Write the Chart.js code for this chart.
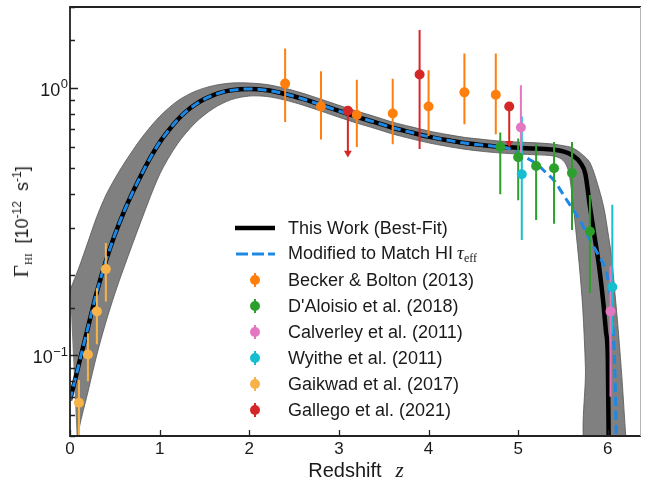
<!DOCTYPE html>
<html lang="en">
<head>
<meta charset="utf-8">
<title>HI photoionization rate vs redshift</title>
<script src="https://cdn.jsdelivr.net/npm/chart.js@4.4.1/dist/chart.umd.min.js"></script>
<style>
  body { margin: 0; background: #fff; }
  #wrap { position: relative; width: 646px; height: 483px; font-family: "Liberation Sans", Arial, sans-serif; color: #1a1a1a; }
  #chart { position: absolute; left: 0; top: 0; }
  .serif { font-family: "Liberation Serif", "DejaVu Serif", serif; }
  .ytitle { position: absolute; left: 22px; top: 222px; transform: translate(-50%, -50%) rotate(-90deg); white-space: nowrap; font-size: 18px; line-height: 1; }
  .ytitle .gamma { font-size: 22px; }
  .ytitle sub { font-size: 11px; vertical-align: -4px; }
  .ytitle sup { font-size: 12px; vertical-align: 7px; }
  .xtitle { position: absolute; left: 356px; top: 470px; transform: translate(-50%, -50%); white-space: nowrap; font-size: 20px; line-height: 1; }
  .xtitle .z { font-style: italic; font-size: 21px; margin-left: 14px; }
  .legend { position: absolute; left: 233px; top: 215px; font-size: 18px; }
  .legend .row { display: flex; align-items: center; height: 26px; white-space: nowrap; }
  .legend svg { width: 52px; height: 26px; margin-right: 3px; flex: none; }
  .legend .tau { font-style: italic; font-size: 19px; margin-left: 4px; }
  .legend sub { font-size: 12px; vertical-align: -3px; }
</style>
</head>
<body>
<div id="wrap">
  <canvas id="chart" width="646" height="483"></canvas>
  <div class="ytitle"><span class="serif gamma">Γ</span><sub class="serif">HI</sub>&nbsp;&nbsp;[10<sup>-12</sup>&nbsp;&nbsp;s<sup>-1</sup>]</div>
  <div class="xtitle">Redshift<span class="serif z">z</span></div>
  <div class="legend" id="legend"></div>
</div>
<script>
// Axis ranges and tick labels
const xMin = 0, xMax = 6.37;
const yMin = 0.05, yMax = 2;
const yTickValues = [0.1, 1];
const yTickExps = ['\u22121', '0'];

// Best-fit curve (black)
const fitZ = [0, 0.1, 0.2, 0.3, 0.4, 0.5, 0.6, 0.7, 0.8, 0.9, 1.0, 1.1, 1.2, 1.3, 1.4, 1.5, 1.6, 1.7, 1.8, 1.9, 2.0,
    2.2, 2.4, 2.6, 2.8, 3.0, 3.2, 3.4, 3.6, 3.8, 4.0, 4.2, 4.4, 4.6, 4.8, 5.0, 5.2, 5.4,
    5.5, 5.6, 5.7, 5.75, 5.8, 5.85, 5.9, 5.95, 5.98, 6.0, 6.01];
const fitVal = [0.068, 0.093, 0.127, 0.173, 0.225, 0.282, 0.343, 0.407, 0.476, 0.55, 0.624, 0.692, 0.759, 0.817, 0.865, 0.906, 0.938, 0.962, 0.977, 0.986, 0.989,
    0.977, 0.947, 0.907, 0.862, 0.818, 0.778, 0.743, 0.708, 0.681, 0.656, 0.637, 0.621, 0.61, 0.601, 0.596, 0.592, 0.586,
    0.578, 0.56, 0.52, 0.475, 0.36, 0.28, 0.218, 0.157, 0.122, 0.097, 0.045];

// Modified curve (blue dashed) - identical to best fit below z = 4.8
const modSplitZ = 4.8;
const modZ = [4.8, 4.9, 5.0, 5.1, 5.2, 5.3, 5.4, 5.5, 5.6, 5.7, 5.8, 5.9, 5.98, 6.02, 6.05, 6.07, 6.085, 6.095];
const modVal = [0.601, 0.592, 0.57, 0.545, 0.52, 0.485, 0.45, 0.40, 0.355, 0.315, 0.27, 0.235, 0.207, 0.175, 0.14, 0.105, 0.072, 0.045];

// Uncertainty band (grey)
const bandUpperZ = [0, 0.1, 0.2, 0.3, 0.4, 0.5, 0.6, 0.8, 1.0, 1.2, 1.4, 1.6, 1.8, 2.0,
    2.2, 2.4, 2.6, 2.8, 3.0, 3.2, 3.4, 3.6, 3.8, 4.0, 4.2, 4.4, 4.6, 4.8, 5.0, 5.2, 5.4,
    5.5, 5.6, 5.7, 5.8, 5.9, 5.96, 6.0, 6.04, 6.08, 6.12, 6.16, 6.2, 6.22];
const bandUpperVal = [0.175, 0.213, 0.265, 0.33, 0.396, 0.457, 0.519, 0.65, 0.78, 0.892, 0.97, 1.017, 1.04, 1.04,
    1.026, 0.994, 0.952, 0.905, 0.859, 0.817, 0.78, 0.743, 0.715, 0.689, 0.669, 0.652, 0.641, 0.631, 0.626, 0.622, 0.615,
    0.607, 0.597, 0.568, 0.525, 0.42, 0.35, 0.29, 0.235, 0.17, 0.12, 0.08, 0.05, 0.042];
const bandLowerZ = [0.08, 0.1, 0.2, 0.3, 0.4, 0.5, 0.6, 0.8, 1.0, 1.2, 1.4, 1.6, 1.8, 2.0,
    2.2, 2.4, 2.6, 2.8, 3.0, 3.2, 3.4, 3.6, 3.8, 4.0, 4.2, 4.4, 4.6, 4.8, 5.0, 5.2, 5.4,
    5.5, 5.56, 5.6, 5.64, 5.68, 5.72, 5.75, 5.77];
const bandLowerVal = [0.045, 0.053, 0.073, 0.1007, 0.133, 0.17, 0.212, 0.322, 0.474, 0.617, 0.74, 0.836, 0.902, 0.93,
    0.926, 0.898, 0.86, 0.817, 0.775, 0.737, 0.704, 0.671, 0.645, 0.622, 0.604, 0.589, 0.578, 0.57, 0.565, 0.561, 0.555,
    0.535, 0.49, 0.40, 0.30, 0.22, 0.15, 0.09, 0.042];

// Observations: value with lower / upper error
const beckerZ = [2.4, 2.8, 3.2, 3.6, 4.0, 4.4, 4.75];
const beckerVal = [1.035, 0.85, 0.79, 0.80, 0.85, 0.96, 0.94];
const beckerLo = [0.744, 0.64, 0.60, 0.615, 0.66, 0.73, 0.67];
const beckerHi = [1.40, 1.15, 1.07, 1.08, 1.16, 1.34, 1.34];

const daloisioZ = [4.8, 5.0, 5.2, 5.4, 5.6, 5.8];
const daloisioVal = [0.60, 0.55, 0.51, 0.50, 0.48, 0.29];
const daloisioLo = [0.40, 0.38, 0.32, 0.31, 0.294, 0.171];
const daloisioHi = [0.68, 0.645, 0.615, 0.627, 0.627, 0.397];

const calverleyZ = [5.03, 6.03];
const calverleyVal = [0.71, 0.146];
const calverleyLo = [0.55, 0.07];
const calverleyHi = [1.02, 0.215];

const wyitheZ = [5.04, 6.05];
const wyitheVal = [0.475, 0.18];
const wyitheLo = [0.27, 0.12];
const wyitheHi = [0.78, 0.365];

const gaikwadZ = [0.1, 0.2, 0.3, 0.4];
const gaikwadVal = [0.0665, 0.1007, 0.146, 0.21];
const gaikwadLo = [0.045, 0.080, 0.110, 0.159];
const gaikwadHi = [0.081, 0.121, 0.178, 0.263];

// Gallego: two of the three are upper limits (arrow down to lo)
const gallegoZ = [3.1, 3.9, 4.9];
const gallegoVal = [0.82, 1.12, 0.85];
const gallegoLo = [0.57, 0.59, 0.62];
const gallegoHi = [0.82, 1.64, 0.85];
const gallegoLimit = [true, false, true];

const surveys = [
    { label: 'Becker & Bolton (2013)', color: '#ff7f0e', z: beckerZ, val: beckerVal, lo: beckerLo, hi: beckerHi },
    { label: "D'Aloisio et al. (2018)", color: '#2ca02c', z: daloisioZ, val: daloisioVal, lo: daloisioLo, hi: daloisioHi },
    { label: 'Calverley et al. (2011)', color: '#e377c2', z: calverleyZ, val: calverleyVal, lo: calverleyLo, hi: calverleyHi },
    { label: 'Wyithe et al. (2011)', color: '#17becf', z: wyitheZ, val: wyitheVal, lo: wyitheLo, hi: wyitheHi },
    { label: 'Gaikwad et al. (2017)', color: '#f8b24a', z: gaikwadZ, val: gaikwadVal, lo: gaikwadLo, hi: gaikwadHi },
    { label: 'Gallego et al. (2021)', color: '#d62728', z: gallegoZ, val: gallegoVal, lo: gallegoLo, hi: gallegoHi }
];

const FONT = '"Liberation Sans", Arial, sans-serif';

function toPoints(z, v) {
    return z.map((zz, i) => ({ x: zz, y: v[i] }));
}

function errorBarPoints(z, lo, hi) {
    const pts = [];
    z.forEach((zz, i) => {
        pts.push({ x: zz, y: lo[i] }, { x: zz, y: hi[i] }, { x: zz, y: null });
    });
    return pts;
}

// closed outline of the band: upper edge left->right, lower edge back
const bandPoints = toPoints(bandUpperZ, bandUpperVal)
    .concat(toPoints(bandLowerZ, bandLowerVal).reverse());

const modifiedPoints = toPoints(fitZ, fitVal).filter(p => p.x < modSplitZ)
    .concat(toPoints(modZ, modVal));

const datasets = [
    {
        data: bandPoints, fill: 'shape', backgroundColor: '#808080',
        borderColor: '#555', borderWidth: 0.8, pointRadius: 0, tension: 0.3, order: 30
    },
    {
        data: toPoints(fitZ, fitVal), borderColor: '#000', borderWidth: 4.5,
        pointRadius: 0, cubicInterpolationMode: 'monotone', fill: false, order: 29
    },
    {
        data: modifiedPoints, borderColor: '#1e88e5', borderWidth: 3, borderDash: [9, 5],
        pointRadius: 0, cubicInterpolationMode: 'monotone', fill: false, order: 28
    }
];

surveys.forEach(s => {
    datasets.push({
        data: errorBarPoints(s.z, s.lo, s.hi), borderColor: s.color, borderWidth: 2,
        pointRadius: 0, spanGaps: false, fill: false, order: 10
    });
    datasets.push({
        data: toPoints(s.z, s.val), showLine: false, pointRadius: 5,
        pointBackgroundColor: s.color, pointBorderWidth: 0, order: 5
    });
});

// arrow heads for the upper limits
datasets.push({
    data: toPoints(gallegoZ, gallegoLo).filter((p, i) => gallegoLimit[i]),
    showLine: false, pointStyle: 'triangle', rotation: 180, pointRadius: 4.5,
    pointBackgroundColor: '#d62728', pointBorderWidth: 0, order: 4
});

// inward ticks, frame and 10^n labels
const framePlugin = {
    id: 'frame',
    afterDraw(chart) {
        const { ctx, chartArea: a, scales: { x, y } } = chart;
        ctx.save();
        ctx.strokeStyle = '#222';
        ctx.lineWidth = 1.3;
        ctx.beginPath();
        y.ticks.forEach(t => {
            if (t.value < yMin || t.value > yMax) return;
            const py = Math.round(y.getPixelForValue(t.value)) + 0.5;
            const len = yTickValues.includes(t.value) ? 8 : 5;
            ctx.moveTo(a.left, py);
            ctx.lineTo(a.left + len, py);
        });
        x.ticks.forEach(t => {
            const px = Math.round(x.getPixelForValue(t.value)) + 0.5;
            ctx.moveTo(px, a.bottom);
            ctx.lineTo(px, a.bottom - 6);
        });
        ctx.stroke();

        // left, bottom, top axis lines
        ctx.lineWidth = 1.8;
        ctx.strokeStyle = '#222';
        ctx.beginPath();
        ctx.moveTo(a.right, a.top);
        ctx.lineTo(a.left, a.top);
        ctx.lineTo(a.left, a.bottom);
        ctx.lineTo(a.right, a.bottom);
        ctx.stroke();
        ctx.lineWidth = 1;
        ctx.strokeStyle = '#b5b5b5';
        ctx.beginPath();
        ctx.moveTo(a.right - 0.5, a.top);
        ctx.lineTo(a.right - 0.5, a.bottom);
        ctx.stroke();

        // y labels with superscript exponent
        ctx.fillStyle = '#1a1a1a';
        ctx.textAlign = 'right';
        ctx.textBaseline = 'alphabetic';
        yTickValues.forEach((v, i) => {
            const py = y.getPixelForValue(v);
            const right = a.left - 2;
            ctx.font = '13px ' + FONT;
            const w = ctx.measureText(yTickExps[i]).width;
            ctx.fillText(yTickExps[i], right, py + 0.5);
            ctx.font = '18px ' + FONT;
            ctx.fillText('10', right - w - 0.5, py + 8);
        });
        ctx.restore();
    }
};

new Chart(document.getElementById('chart'), {
    type: 'line',
    data: { datasets },
    options: {
        responsive: false,
        maintainAspectRatio: false,
        animation: false,
        events: [],
        layout: { padding: { top: 7, right: 3, left: 0, bottom: 0 } },
        plugins: {
            legend: { display: false },
            tooltip: { enabled: false }
        },
        scales: {
            x: {
                type: 'linear', min: xMin, max: xMax,
                ticks: {
                    stepSize: 1, includeBounds: false, maxRotation: 0, padding: 3,
                    color: '#1a1a1a', font: { family: FONT, size: 17 }
                },
                grid: { display: false, drawTicks: false },
                border: { display: false },
                afterFit: s => { s.height = 47; }
            },
            y: {
                type: 'logarithmic', min: yMin, max: yMax,
                ticks: { display: false },
                grid: { display: false, drawTicks: false },
                border: { display: false },
                afterFit: s => { s.width = 70; }
            }
        }
    },
    plugins: [framePlugin]
});

// HTML legend
const legendEl = document.getElementById('legend');
function addRow(icon, html) {
    const row = document.createElement('div');
    row.className = 'row';
    row.innerHTML = '<svg viewBox="0 0 52 26">' + icon + '</svg><span>' + html + '</span>';
    legendEl.appendChild(row);
}
addRow('<line x1="2" y1="13" x2="42" y2="13" stroke="#000" stroke-width="4.5"/>', 'This Work (Best-Fit)');
addRow('<line x1="3" y1="13" x2="42" y2="13" stroke="#1e88e5" stroke-width="3" stroke-dasharray="12 4"/>',
    'Modified to Match HI<span class="serif tau">\u03c4</span><sub class="serif">eff</sub>');
surveys.forEach(s => {
    addRow('<line x1="22" y1="6" x2="22" y2="20" stroke="' + s.color + '" stroke-width="2"/>' +
        '<circle cx="22" cy="13" r="5" fill="' + s.color + '"/>', s.label);
});
</script>
</body>
</html>
